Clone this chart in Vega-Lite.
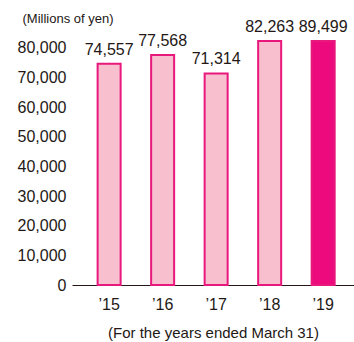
{
  "$schema": "https://vega.github.io/schema/vega-lite/v6.json",
  "width": 282,
  "height": 244,
  "autosize": {"type": "none"},
  "padding": {"left": 72, "top": 41, "right": 0, "bottom": 57},
  "background": "white",
  "config": {
    "view": {"stroke": null},
    "font": "Liberation Sans",
    "axis": {"labelFont": "Liberation Sans", "titleFont": "Liberation Sans", "labelColor": "#231815", "titleColor": "#231815"}
  },
  "data": {
    "values": [
      {"year": "\u201915", "sales": 74557},
      {"year": "\u201916", "sales": 77568},
      {"year": "\u201917", "sales": 71314},
      {"year": "\u201918", "sales": 82263},
      {"year": "\u201919", "sales": 89499}
    ]
  },
  "encoding": {
    "x": {
      "field": "year",
      "type": "nominal",
      "sort": null,
      "scale": {"paddingInner": 0.57, "paddingOuter": 0.42, "align": 0.57},
      "axis": {
        "title": "(For the years ended March 31)",
        "labelAngle": 0,
        "labelFontSize": 16,
        "labelPadding": 11,
        "ticks": false,
        "domainColor": "#231815",
        "domainWidth": 1.2,
        "titleFontSize": 15,
        "titleFontWeight": "normal",
        "titlePadding": 13
      }
    },
    "y": {
      "field": "sales",
      "type": "quantitative",
      "scale": {"domain": [0, 82263], "nice": false, "clamp": true},
      "axis": {
        "title": "(Millions of yen)",
        "titleAngle": 0,
        "titleAlign": "left",
        "titleBaseline": "alphabetic",
        "titleX": -50,
        "titleY": -19,
        "titleFontSize": 13,
        "titleFontWeight": "normal",
        "values": [0, 10000, 20000, 30000, 40000, 50000, 60000, 70000, 80000],
        "format": ",.0f",
        "labelFontSize": 16,
        "labelPadding": 6,
        "domain": false,
        "ticks": false,
        "grid": false
      }
    }
  },
  "layer": [
    {
      "mark": {"type": "bar", "stroke": "#e8187d", "strokeWidth": 2},
      "encoding": {
        "fill": {
          "condition": {"test": "datum.year == '\u201919'", "value": "#ec0a7c"},
          "value": "#f8bfce"
        }
      }
    },
    {
      "mark": {"type": "text", "baseline": "alphabetic", "dy": -9, "fontSize": 16, "color": "#231815"},
      "encoding": {
        "text": {"field": "sales", "type": "quantitative", "format": ",.0f"}
      }
    }
  ]
}
